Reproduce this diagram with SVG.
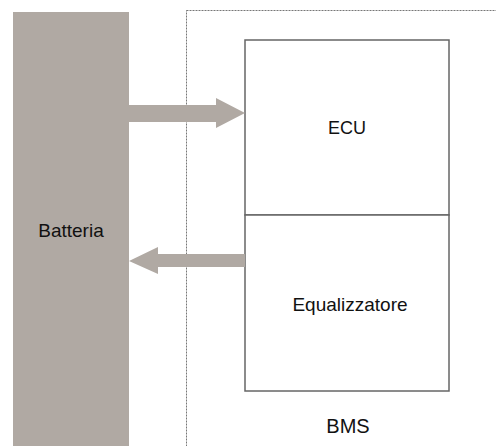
<svg xmlns="http://www.w3.org/2000/svg" width="496" height="446" viewBox="0 0 496 446">
<style>
.lbl{font-family:"Liberation Sans",Arial,sans-serif;fill:#111;text-anchor:middle}
.box{fill:#fff;stroke:#666;stroke-width:1.5}
.arrow{fill:#b0a9a3;stroke:none}
</style>
<rect width="496" height="446" fill="#fff"/>
<g id="bms">
<rect x="186.5" y="10.5" width="320" height="450" fill="none" stroke="#777" stroke-width="1" stroke-dasharray="2,1"/>
<text class="lbl" x="348" y="433" font-size="20">BMS</text>
</g>
<g id="batteria">
<rect x="13" y="12" width="116" height="434" fill="#b0a9a3"/>
<text class="lbl" x="71" y="237" font-size="19">Batteria</text>
</g>
<g id="ecu">
<rect class="box" x="245" y="40" width="204" height="175"/>
<text class="lbl" x="347" y="134" font-size="18">ECU</text>
</g>
<g id="equalizzatore">
<rect class="box" x="245" y="215" width="204" height="176"/>
<text class="lbl" x="350" y="311" font-size="19">Equalizzatore</text>
</g>
<g id="connectors">
<polygon class="arrow" points="129,105 216,105 216,98 245,113 216,128 216,122 129,122"/>
<polygon class="arrow" points="245,254 158,254 158,247 129,261 158,274 158,267 245,267"/>
</g>
</svg>
